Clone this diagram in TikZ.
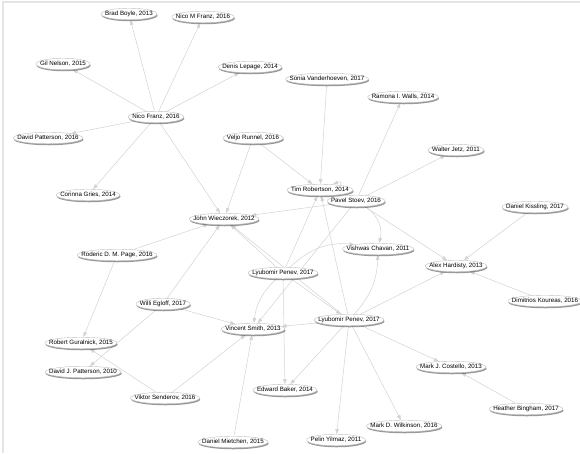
\documentclass[tikz,border=0pt]{standalone}
\usepackage{fontspec}
\setmainfont{Liberation Sans}
\usetikzlibrary{shapes.geometric,shadows,arrows.meta}
\pgfdeclarelayer{edges}
\pgfsetlayers{edges,main}
\newcommand{\nm}[1]{\makebox[0.71\width]{#1}}
\tikzset{
	person/.style={ellipse, draw=gray!50, fill=white, line width=0.4pt, inner xsep=2.8pt, inner ysep=0.9pt, minimum height=11.5pt, font=\fontsize{6.2}{7}\selectfont, drop shadow={shadow xshift=0.7pt, shadow yshift=-1.5pt, fill=black, opacity=0.4}},
	link/.style={draw=gray!35, line width=0.5pt, -{Triangle[length=5pt,width=3.6pt]}}
}
\begin{document}
\begin{tikzpicture}[x=1pt,y=-1pt]
	\useasboundingbox (0,0) rectangle (580,453);
	\draw[gray!20, line width=1.5pt] (3,453) -- (3,2) -- (580,2);
	% people
	\node[person] (brad) at (129,14) {\nm{Brad Boyle, 2013}};
	\node[person] (nicom) at (203,17) {\nm{Nico M Franz, 2016}};
	\node[person] (gil) at (63,64) {\nm{Gil Nelson, 2015}};
	\node[person] (denis) at (250,67) {\nm{Denis Lepage, 2014}};
	\node[person] (sonia) at (327,79) {\nm{Sonia Vanderhoeven, 2017}};
	\node[person] (ramona) at (403,97) {\nm{Ramona I. Walls, 2014}};
	\node[person] (nico) at (156,117) {\nm{Nico Franz, 2016}};
	\node[person] (davidp) at (48,138) {\nm{David Patterson, 2016}};
	\node[person] (veljo) at (253,138) {\nm{Veljo Runnel, 2016}};
	\node[person] (walter) at (456,150) {\nm{Walter Jetz, 2011}};
	\node[person] (tim) at (320,190) {\nm{Tim Robertson, 2014}};
	\node[person] (pavel) at (356,201) {\nm{Pavel Stoev, 2016}};
	\node[person] (kissling) at (535,207) {\nm{Daniel Kissling, 2017}};
	\node[person] (corinna) at (88,195) {\nm{Corinna Gries, 2014}};
	\node[person] (john) at (224,219) {\nm{John Wieczorek, 2012}};
	\node[person] (vishwas) at (378,249) {\nm{Vishwas Chavan, 2011}};
	\node[person] (roderic) at (117,255) {\nm{Roderic D. M. Page, 2016}};
	\node[person] (alex) at (456,266) {\nm{Alex Hardisty, 2013}};
	\node[person] (lpa) at (283,273) {\nm{Lyubomir Penev, 2017}};
	\node[person] (koureas) at (545,301) {\nm{Dimitrios Koureas, 2016}};
	\node[person] (willi) at (163,304) {\nm{Willi Egloff, 2017}};
	\node[person] (lpb) at (349,320) {\nm{Lyubomir Penev, 2017}};
	\node[person] (vincent) at (253,329) {\nm{Vincent Smith, 2013}};
	\node[person] (robert) at (81,343) {\nm{Robert Guralnick, 2015}};
	\node[person] (costello) at (451,367) {\nm{Mark J. Costello, 2013}};
	\node[person] (davidj) at (83,372) {\nm{David J. Patterson, 2010}};
	\node[person] (edward) at (285,390) {\nm{Edward Baker, 2014}};
	\node[person] (viktor) at (165,398) {\nm{Viktor Senderov, 2016}};
	\node[person] (heather) at (526,409) {\nm{Heather Bingham, 2017}};
	\node[person] (wilkinson) at (404,426) {\nm{Mark D. Wilkinson, 2016}};
	\node[person] (pelin) at (336,440) {\nm{Pelin Yilmaz, 2011}};
	\node[person] (mietchen) at (233,442) {\nm{Daniel Mietchen, 2015}};
	% links
	\begin{pgfonlayer}{edges}
		\foreach \a/\b in {nico/brad, nico/nicom, nico/gil, nico/denis, nico/davidp, nico/corinna, nico/john,
			veljo/john, veljo/tim, sonia/tim,
			pavel/ramona, pavel/walter, pavel/john, pavel/alex, pavel/vincent,
			kissling/alex, koureas/alex, heather/costello,
			lpa/john, lpa/tim, lpa/lpb, lpa/edward,
			lpb/alex, lpb/tim, lpb/john, lpb/vincent, lpb/edward, lpb/costello, lpb/pelin, lpb/wilkinson,
			willi/john, willi/vincent, willi/davidj,
			roderic/john, roderic/robert,
			viktor/robert, viktor/vincent, mietchen/vincent}
			\draw[link] (\a) -- (\b);
		\draw[link] ([xshift=-16pt]pavel.north) to[out=95,in=20,looseness=2.2] ([xshift=13pt]tim.north);
		\draw[link] (pavel) to[bend left=35] (vishwas);
		\draw[link] (lpa) to[bend left=25] (vishwas);
		\draw[link] (lpb) to[bend right=20] (vishwas);
		\draw[link] (lpa) to[bend right=20] (vincent);
	\end{pgfonlayer}
\end{tikzpicture}
\end{document}
